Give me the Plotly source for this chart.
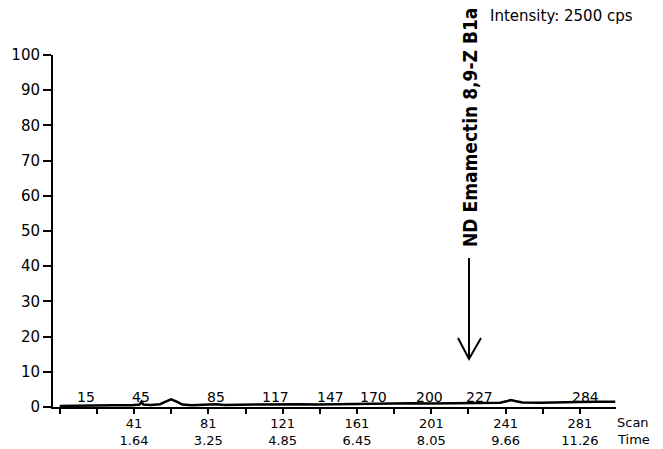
import plotly.graph_objects as go

# ---- data ----
scan = [1, 10, 20, 30, 40, 44, 45, 46, 50, 55, 58, 61, 64, 67, 72, 80, 85, 90,
        100, 110, 120, 130, 140, 150, 160, 170, 180, 190, 200, 210, 220, 230,
        238, 242, 244, 246, 250, 260, 270, 280, 290, 300]
intensity = [0.3, 0.4, 0.3, 0.5, 0.5, 0.7, 1.5, 0.7, 0.6, 0.8, 1.5, 2.2, 1.5, 0.7,
             0.5, 0.6, 0.8, 0.6, 0.7, 0.6, 0.9, 0.8, 0.7, 0.8, 0.9, 1.0, 0.9,
             1.1, 1.0, 1.1, 1.2, 1.1, 1.2, 1.7, 2.0, 1.7, 1.3, 1.2, 1.4, 1.4,
             1.5, 1.5]

tick_scans = [1, 21, 41, 61, 81, 101, 121, 141, 161, 181, 201, 221, 241, 261, 281]
label_scans = [41, 81, 121, 161, 201, 241, 281]
label_times = ["1.64", "3.25", "4.85", "6.45", "8.05", "9.66", "11.26"]
peak_scans = [15, 45, 85, 117, 147, 170, 200, 227, 284]
y_ticks = [0, 10, 20, 30, 40, 50, 60, 70, 80, 90, 100]

# page body adds an 8px offset; size the figure so the plot lands where the reference has it
OFF = 8
W, H = 663 - OFF, 449 - OFF
L, T = 53 - OFF, 55 - OFF
PW, PH = 563, 352
R, B = W - L - PW, H - T - PH


def px(xp):
    return (xp - OFF - L) / PW


def py(yp):
    return (T + PH - (yp - OFF)) / PH


tick_text = []
for s in tick_scans:
    if s in label_scans:
        tick_text.append(f"{s}<br>{label_times[label_scans.index(s)]}")
    else:
        tick_text.append("")

num_font = dict(family="DejaVu Sans, Arial, sans-serif", size=14, color="black")
xtick_font = dict(family="DejaVu Sans, Arial, sans-serif", size=13, color="black")
ytick_font = dict(family="DejaVu Sans, Arial, sans-serif", size=15, color="black")

fig = go.Figure()
fig.add_trace(go.Scatter(x=scan, y=intensity, mode="lines",
                         line=dict(color="black", width=2.5),
                         hoverinfo="skip", showlegend=False))

annotations = []
for s in peak_scans:
    annotations.append(dict(x=s, y=2.9, xref="x", yref="y", text=str(s),
                            showarrow=False, font=num_font,
                            xanchor="center", yanchor="middle"))

annotations += [
    dict(x=px(470), y=py(128), xref="paper", yref="paper",
         text="<b>ND Emamectin 8,9-Z B1a</b>", textangle=-90, showarrow=False,
         font=dict(family="Liberation Sans Narrow, DejaVu Sans Condensed, Arial Narrow, sans-serif",
                   size=19, color="black"),
         xanchor="center", yanchor="middle"),
    dict(x=px(488), y=py(16), xref="paper", yref="paper",
         text="Intensity: 2500 cps", showarrow=False,
         font=dict(family="DejaVu Sans, Arial, sans-serif", size=15, color="black"),
         xanchor="left", yanchor="middle"),
    dict(x=px(615), y=py(422), xref="paper", yref="paper", text="Scan",
         showarrow=False, font=xtick_font, xanchor="left", yanchor="middle"),
    dict(x=px(615), y=py(439), xref="paper", yref="paper", text="Time",
         showarrow=False, font=xtick_font, xanchor="left", yanchor="middle"),
]

shapes = [
    dict(type="line", xref="paper", yref="paper",
         x0=px(469), x1=px(469), y0=py(258), y1=py(358),
         line=dict(color="black", width=2)),
    dict(type="path", xref="paper", yref="paper",
         path=f"M {px(458)} {py(338)} L {px(469)} {py(359)} L {px(481)} {py(338)}",
         line=dict(color="black", width=2)),
]

fig.update_layout(
    width=W, height=H,
    margin=dict(l=L, r=R, t=T, b=B, pad=0, autoexpand=False),
    paper_bgcolor="white", plot_bgcolor="white",
    showlegend=False,
    annotations=annotations,
    shapes=shapes,
    xaxis=dict(range=[-2.6, 300.4], tickmode="array", tickvals=tick_scans,
               ticktext=tick_text, ticks="outside", ticklen=5, tickwidth=1.5,
               tickcolor="black", showline=True, linecolor="black", linewidth=2,
               showgrid=False, zeroline=False, tickfont=xtick_font,
               tickangle=0, automargin=False, ticklabelstandoff=-2),
    yaxis=dict(range=[0, 100], tickmode="array", tickvals=y_ticks,
               ticktext=[str(v) for v in y_ticks], ticks="outside", ticklen=8,
               tickwidth=1.5, tickcolor="black", showline=True, linecolor="black",
               linewidth=2, showgrid=False, zeroline=False, tickfont=ytick_font,
               automargin=False),
)

fig.write_html("out.html")
